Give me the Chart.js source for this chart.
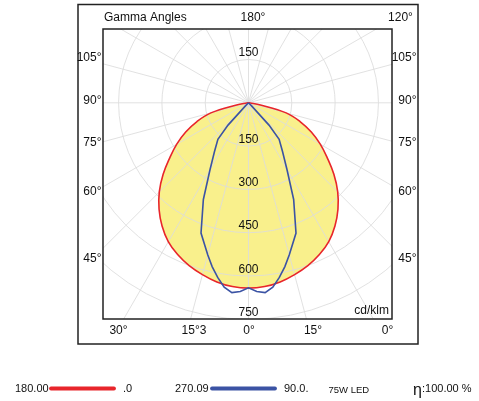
<!DOCTYPE html>
<html>
<head>
<meta charset="utf-8">
<script src="https://cdn.jsdelivr.net/npm/chart.js@4.4.1/dist/chart.umd.min.js"></script>
<style>
  html, body { margin: 0; padding: 0; background: #fff; }
  #wrap { width: 479px; height: 401px; position: relative; }
</style>
</head>
<body>
<div id="wrap"><canvas id="polar"></canvas></div>
<script>
// gamma angles (deg from nadir) and intensities in cd/klm
const gammaC0 = [0, 5, 10, 15, 20, 25, 30, 35, 40, 45, 50, 55, 60, 65, 70, 75, 80, 85, 90];
const planeC0 = [643, 640, 631, 617, 601, 581, 556, 522, 482, 437, 386, 333, 287, 240, 190, 135, 42, 6, 0];
const planeC180 = [643, 640, 631, 617, 601, 581, 556, 522, 482, 437, 386, 333, 287, 240, 190, 135, 42, 6, 0];

const gammaC90 = [0, 2.5, 5, 7.5, 10, 12.5, 15, 20, 25, 30, 35, 40, 42.5, 45, 50, 90];
const planeC90 = [642, 655, 661, 645, 615, 582, 546, 481, 370, 266, 205, 165, 105, 15, 0, 0];
const planeC270 = [642, 655, 661, 645, 615, 582, 546, 481, 370, 266, 205, 165, 105, 15, 0, 0];

const ringValues = [150, 300, 450, 600, 750, 900];
const ringLabelsDown = ['150', '300', '450', '600', '750'];
const ringLabelsUp = ['150'];
const leftAngleLabels = ['105°', '90°', '75°', '60°', '45°'];
const rightAngleLabels = ['105°', '90°', '75°', '60°', '45°'];
const bottomAngleLabels = ['30°', '15°3', '0°', '15°', '0°'];
const topLabels = ['Gamma Angles', '180°', '120°'];

const FONT = '"Liberation Sans", Arial, sans-serif';

// polar (gamma, I) -> cartesian, left half negative x
function halfPlane(angles, values, side) {
  return angles.map((g, i) => {
    const a = g * Math.PI / 180;
    return { x: side * values[i] * Math.sin(a), y: -values[i] * Math.cos(a) };
  });
}
function fullPlane(angles, leftVals, rightVals) {
  const left = halfPlane(angles, leftVals, -1).reverse();
  const right = halfPlane(angles, rightVals, 1).slice(1);
  return left.concat(right);
}

const gridPlugin = {
  id: 'polarGrid',
  beforeDatasetsDraw(chart) {
    const { ctx, chartArea: ca, scales: { x, y } } = chart;
    const cx = x.getPixelForValue(0), cy = y.getPixelForValue(0);
    const unit = x.getPixelForValue(100) - cx;
    ctx.save();
    ctx.beginPath();
    ctx.rect(ca.left, ca.top, ca.right - ca.left, ca.bottom - ca.top);
    ctx.clip();
    ctx.strokeStyle = 'rgba(220,220,220,0.85)';
    ctx.lineWidth = 1;
    ringValues.forEach(r => {
      ctx.beginPath();
      ctx.arc(cx, cy, r * unit / 100, 0, Math.PI * 2);
      ctx.stroke();
    });
    for (let a = 0; a < 360; a += 15) {
      const t = a * Math.PI / 180;
      ctx.beginPath();
      ctx.moveTo(cx, cy);
      ctx.lineTo(cx + Math.sin(t) * 1200 * unit / 100, cy + Math.cos(t) * 1200 * unit / 100);
      ctx.stroke();
    }
    ctx.restore();
  },
  afterDatasetsDraw(chart) {
    const { ctx, chartArea: ca, scales: { x, y } } = chart;
    const cx = x.getPixelForValue(0);
    ctx.save();
    ctx.fillStyle = '#111';
    ctx.font = '12px ' + FONT;
    ctx.textAlign = 'center';
    ctx.textBaseline = 'middle';
    ringLabelsDown.forEach((t, i) => {
      ctx.fillText(t, cx, y.getPixelForValue(-ringValues[i]) - 6.5);
    });
    ringLabelsUp.forEach((t, i) => {
      ctx.fillText(t, cx, y.getPixelForValue(ringValues[i]) - 6.5);
    });
    ctx.textAlign = 'right';
    ctx.fillText('cd/klm', ca.right - 3, ca.bottom - 8);

    // frames
    ctx.strokeStyle = '#222';
    ctx.lineWidth = 1.5;
    ctx.strokeRect(ca.left, ca.top, ca.right - ca.left, ca.bottom - ca.top);
    ctx.strokeRect(78, 4.5, 340, 339.5);

    // angle labels round the box
    const sideY = [58, 101, 142.5, 192, 258.5];
    ctx.textAlign = 'right';
    leftAngleLabels.forEach((t, i) => ctx.fillText(t, ca.left - 1.5, sideY[i]));
    rightAngleLabels.forEach((t, i) => ctx.fillText(t, 416.5, sideY[i]));
    const bottomX = [118.5, 194, 249, 313, 387.5];
    ctx.textAlign = 'center';
    bottomAngleLabels.forEach((t, i) => ctx.fillText(t, bottomX[i], 331));
    ctx.textAlign = 'left';
    ctx.fillText(topLabels[0], 104, 17.5);
    ctx.textAlign = 'center';
    ctx.fillText(topLabels[1], 253, 17.5);
    ctx.fillText(topLabels[2], 400.5, 17.5);

    // bottom legend
    const ly = 388.5;
    ctx.font = '11px ' + FONT;
    ctx.textAlign = 'left';
    ctx.fillText('180.00', 15, ly);
    ctx.fillText('.0', 123, ly);
    ctx.fillText('270.09', 175, ly);
    ctx.fillText('90.0.', 284, ly);
    ctx.font = '9.5px ' + FONT;
    ctx.fillText('75W LED', 328.5, ly + 1.5);
    ctx.font = '16px ' + FONT;
    ctx.fillText('η', 413, ly + 2);
    ctx.font = '11px ' + FONT;
    ctx.fillText(':100.00 %', 422, ly);
    ctx.lineCap = 'round';
    ctx.lineWidth = 3.8;
    ctx.strokeStyle = '#e8252b';
    ctx.beginPath(); ctx.moveTo(51, ly); ctx.lineTo(114, ly); ctx.stroke();
    ctx.strokeStyle = '#3b53a4';
    ctx.beginPath(); ctx.moveTo(212, ly); ctx.lineTo(275, ly); ctx.stroke();
    ctx.restore();
  }
};

new Chart(document.getElementById('polar'), {
  type: 'scatter',
  data: {
    datasets: [
      {
        label: 'C90 / C270',
        data: fullPlane(gammaC90, planeC270, planeC90),
        showLine: true,
        borderColor: '#3b53a4',
        borderWidth: 1.6,
        pointRadius: 0,
        fill: false,
        tension: 0
      },
      {
        label: 'C0 / C180',
        data: fullPlane(gammaC0, planeC180, planeC0),
        showLine: true,
        borderColor: '#e8252b',
        backgroundColor: '#f9f08c',
        borderWidth: 1.6,
        pointRadius: 0,
        fill: 'shape',
        tension: 0.4
      }
    ]
  },
  options: {
    responsive: true,
    maintainAspectRatio: false,
    animation: false,
    layout: { padding: { left: 103, right: 87, top: 29, bottom: 82 } },
    scales: {
      x: { type: 'linear', display: false, min: -504, max: 497 },
      y: { type: 'linear', display: false, min: -750, max: 256 }
    },
    plugins: {
      legend: { display: false },
      tooltip: { enabled: false },
      filler: { drawTime: 'beforeDraw' }
    }
  },
  plugins: [gridPlugin]
});
</script>
</body>
</html>
